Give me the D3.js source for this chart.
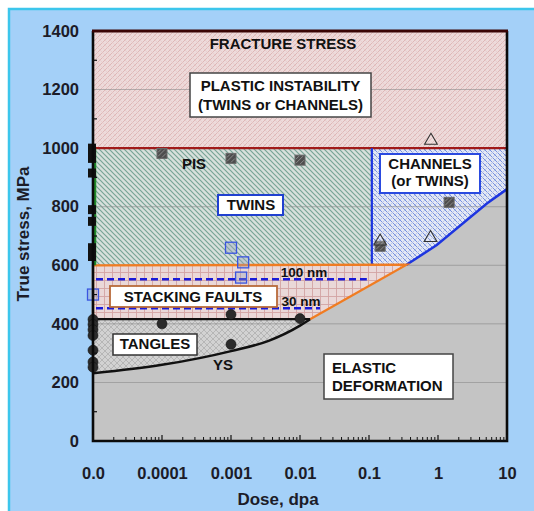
<!DOCTYPE html>
<html><head><meta charset="utf-8">
<script src="https://cdn.jsdelivr.net/npm/d3@7"></script>
<style>body{margin:0;background:#fff}svg{display:block;font-family:"Liberation Sans",Arial,sans-serif}</style>
</head><body><svg id="c" width="534" height="511"></svg>
<script>
// ---- data ----
const xTicks = [1e-5, 1e-4, 1e-3, 1e-2, 0.1, 1, 10];
const xTickLabels = ["0.0", "0.0001", "0.001", "0.01", "0.1", "1", "10"];
const yTicks = [0, 200, 400, 600, 800, 1000, 1200, 1400];
const yMinor = [100, 300, 500, 700, 900, 1100, 1300];
// boundaries
const fractureStress = 1400, pisStress = 1000, twinLimit = 600, tangleTop = 416;
const channelStartDose = 0.11;
const ysCurveDose = [1e-5, 1e-4, 1e-3, 3.5e-3, 1e-2, 0.014];
const ysCurveStress = [231, 260, 307, 342, 394, 416];
const sfDiagDose = [0.014, 0.35];
const sfDiagStress = [416, 602];
const chCurveDose = [0.35, 0.96, 5.1, 10];
const chCurveStress = [602, 669, 811, 860];
const dash100Dose = [1e-5, 0.093], dash100Stress = 552;
const dash30Dose = [1e-5, 0.0195], dash30Stress = 453;
// markers
const circleDose = [1e-5, 1e-5, 1e-5, 1e-5, 1e-5, 1e-5, 1e-5, 1e-4, 1e-3, 1e-3, 0.01];
const circleStress = [415, 398, 380, 360, 310, 270, 252, 400, 432, 330, 418];
const edgeSquareStress = [1000, 985, 965, 915, 790, 750, 660, 630];
const hatchSqDose = [1e-4, 1e-3, 0.01, 1.45, 0.145];
const hatchSqStress = [982, 965, 959, 815, 665];
const blueSqDose = [1e-3, 0.0015, 0.0014, 1e-5];
const blueSqStress = [660, 610, 558, 500];
const triDose = [0.79, 0.78, 0.145];
const triStress = [1029, 697, 685];

// ---- drawing ----
const svg = d3.select("#c");
const W = 534, H = 511;
const x = d3.scaleLog().domain([1e-5, 10]).range([93, 507]);
const y = d3.scaleLinear().domain([0, 1400]).range([441, 31]);
const X0 = x.range()[0], X1 = x.range()[1], Y0 = y.range()[0], Y1 = y.range()[1];

svg.append("rect").attr("x", 9).attr("y", 9).attr("width", W).attr("height", H)
  .attr("fill", "#a4d0f8").attr("stroke", "#3cc6ec").attr("stroke-width", 2.5);

const defs = svg.append("defs");
function pat(id, size, bg, lines) {
  const p = defs.append("pattern").attr("id", id).attr("patternUnits", "userSpaceOnUse")
    .attr("width", size).attr("height", size);
  p.append("rect").attr("width", size).attr("height", size).attr("fill", bg);
  lines.forEach(l => p.append("path").attr("d", l.d).attr("stroke", l.c).attr("stroke-width", l.w).attr("fill", "none"));
}
pat("pFrac", 5, "#eddada", [{d:"M0,5L5,0M-1,1L1,-1M4,6L6,4", c:"#d9abab", w:0.75},{d:"M0,0L5,5M-1,4L1,6M4,-1L6,1", c:"#e6c6c6", w:0.6}]);
pat("pTwin", 5, "#d8e0dc", [{d:"M0,0L5,5M-1,4L1,6M4,-1L6,1", c:"#78a496", w:1.2}]);
pat("pChan", 5, "#e4e8f4", [{d:"M0,0L5,5M-1,4L1,6M4,-1L6,1", c:"#6a86dc", w:0.9},{d:"M0,5L5,0M-1,1L1,-1M4,6L6,4", c:"#b2c0e8", w:0.8}]);
pat("pSF", 8, "#ead8d8", [{d:"M0,0.5H8M0.5,0V8", c:"#d2a4a4", w:0.9}]);
pat("pTan", 6, "#d2d2d2", [{d:"M0,0L6,6M0,6L6,0", c:"#ababab", w:0.7}]);

const plot = svg.append("g");
plot.append("rect").attr("x", X0).attr("y", Y1).attr("width", X1 - X0).attr("height", Y0 - Y1).attr("fill", "#c4c4c4");
const poly = pts => "M" + pts.map(p => x(p[0]) + "," + y(p[1])).join("L") + "Z";

plot.append("path").attr("d", poly([[1e-5, fractureStress], [10, fractureStress], [10, pisStress], [1e-5, pisStress]])).attr("fill", "url(#pFrac)");
plot.append("path").attr("d", poly([[1e-5, pisStress], [channelStartDose, pisStress], [channelStartDose, twinLimit], [1e-5, twinLimit]])).attr("fill", "url(#pTwin)");
const chPts = [[channelStartDose, pisStress], [10, pisStress]];
for (let i = chCurveDose.length - 1; i >= 0; i--) chPts.push([chCurveDose[i], chCurveStress[i]]);
chPts.push([channelStartDose, twinLimit]);
plot.append("path").attr("d", poly(chPts)).attr("fill", "url(#pChan)");
plot.append("path").attr("d", poly([[1e-5, twinLimit], [sfDiagDose[1], sfDiagStress[1]], [sfDiagDose[0], sfDiagStress[0]], [1e-5, tangleTop]])).attr("fill", "url(#pSF)");
const ysLine = d3.line().x(d => x(d[0])).y(d => y(d[1])).curve(d3.curveMonotoneX);
const ysPts = ysCurveDose.map((d, i) => [d, ysCurveStress[i]]);
plot.append("path").attr("d", "M" + x(1e-5) + "," + y(tangleTop) + "L" + x(sfDiagDose[0]) + "," + y(tangleTop) + "L" + ysLine(ysPts.slice().reverse()).slice(1) + "Z").attr("fill", "url(#pTan)");

// gridlines
plot.selectAll(".grid").data(yTicks.slice(1, -1)).join("line")
  .attr("x1", X0).attr("x2", X1).attr("y1", d => y(d)).attr("y2", d => y(d))
  .attr("stroke", "#8c8c8c").attr("stroke-width", 0.8).attr("opacity", 0.8);

// boundary lines
plot.append("line").attr("x1", X0).attr("x2", X1).attr("y1", y(pisStress)).attr("y2", y(pisStress)).attr("stroke", "#a01a1a").attr("stroke-width", 2.2);
plot.append("line").attr("x1", x(channelStartDose)).attr("x2", x(channelStartDose)).attr("y1", y(twinLimit)).attr("y2", y(pisStress)).attr("stroke", "#1d35e0").attr("stroke-width", 2.2);
plot.append("path").attr("d", d3.line().x(d => x(d[0])).y(d => y(d[1]))(chCurveDose.map((d, i) => [d, chCurveStress[i]]))).attr("fill", "none").attr("stroke", "#1d35e0").attr("stroke-width", 2.5);
plot.append("path").attr("d", "M" + x(1e-5) + "," + y(tangleTop) + "L" + x(1e-5) + "," + y(twinLimit) + "L" + x(sfDiagDose[1]) + "," + y(sfDiagStress[1]) + "L" + x(sfDiagDose[0]) + "," + y(sfDiagStress[0]))
  .attr("fill", "none").attr("stroke", "#f07c22").attr("stroke-width", 2.3);
plot.append("line").attr("x1", X0).attr("x2", x(sfDiagDose[0])).attr("y1", y(tangleTop)).attr("y2", y(tangleTop)).attr("stroke", "#111").attr("stroke-width", 2.2);
plot.append("path").attr("d", ysLine(ysPts)).attr("fill", "none").attr("stroke", "#111").attr("stroke-width", 2.5);
[[dash100Dose, dash100Stress], [dash30Dose, dash30Stress]].forEach(([dd, s]) => {
  plot.append("line").attr("x1", x(dd[0]) + 3).attr("x2", x(dd[1])).attr("y1", y(s)).attr("y2", y(s))
    .attr("stroke", "#1a1ad8").attr("stroke-width", 2.5).attr("stroke-dasharray", "7,4");
});
plot.append("line").attr("x1", X0 + 2).attr("x2", X0 + 2).attr("y1", y(twinLimit)).attr("y2", y(pisStress)).attr("stroke", "#1f8a2a").attr("stroke-width", 2.5);

// markers
const mk = svg.append("g");
edgeSquareStress.forEach(s => mk.append("rect").attr("x", X0 - 5).attr("y", y(s) - 4.5).attr("width", 8).attr("height", 9).attr("fill", "#111"));
circleDose.forEach((d, i) => mk.append("circle").attr("cx", x(d)).attr("cy", y(circleStress[i])).attr("r", 5).attr("fill", "#2b2b2b").attr("stroke", "#111").attr("stroke-width", 0.6));
hatchSqDose.forEach((d, i) => {
  const cx = x(d), cy = y(hatchSqStress[i]);
  mk.append("rect").attr("x", cx - 5).attr("y", cy - 5).attr("width", 10).attr("height", 10).attr("fill", "#4e4e4e").attr("stroke", "#6a6a6a").attr("stroke-width", 1);
  mk.append("path").attr("d", `M${cx-4},${cy-1}L${cx-1},${cy-4}M${cx-4},${cy+3}L${cx+3},${cy-4}M${cx},${cy+4}L${cx+4},${cy}`).attr("stroke", "#8a8a8a").attr("stroke-width", 1);
});
blueSqDose.forEach((d, i) => mk.append("rect").attr("x", x(d) - 5.5).attr("y", y(blueSqStress[i]) - 5.5).attr("width", 11).attr("height", 11)
  .attr("fill", "rgba(150,160,190,0.35)").attr("stroke", "#3a55e0").attr("stroke-width", 1.3));
const tri = d3.symbol().type(d3.symbolTriangle).size(70);
triDose.forEach((d, i) => mk.append("path").attr("d", tri()).attr("transform", `translate(${x(d)},${y(triStress[i]) + 1})`)
  .attr("fill", "rgba(255,255,255,0.15)").attr("stroke", "#333").attr("stroke-width", 1.1));

// frame
svg.append("path").attr("d", `M${X0},${Y1}V${Y0}H${X1}V${Y1}`).attr("fill", "none").attr("stroke", "#0a0a0a").attr("stroke-width", 2.6);
svg.append("line").attr("x1", X0 - 1).attr("x2", X1 + 1).attr("y1", Y1).attr("y2", Y1).attr("stroke", "#3a0505").attr("stroke-width", 3);

// ticks
const minor = [];
for (let e = -5; e < 1; e++) for (let k = 2; k <= 9; k++) minor.push(k * Math.pow(10, e));
svg.selectAll(".xmin").data(minor).join("line").attr("x1", d => x(d)).attr("x2", d => x(d)).attr("y1", Y0).attr("y2", Y0 - 4).attr("stroke", "#111").attr("stroke-width", 1);
svg.selectAll(".xmaj").data(xTicks).join("line").attr("x1", d => x(d)).attr("x2", d => x(d)).attr("y1", Y0).attr("y2", Y0 - 6).attr("stroke", "#111").attr("stroke-width", 1.2);
svg.selectAll(".ymin").data(yMinor).join("line").attr("x1", X0).attr("x2", X0 + 4).attr("y1", d => y(d)).attr("y2", d => y(d)).attr("stroke", "#111").attr("stroke-width", 1.2);

const xa = svg.append("g").attr("transform", `translate(0,${Y0})`)
  .call(d3.axisBottom(x).tickValues(xTicks).tickFormat((d, i) => xTickLabels[i]).tickSize(0).tickPadding(26.5));
xa.select(".domain").remove();
xa.selectAll("text").attr("font-size", 16.5).attr("font-weight", "bold").attr("fill", "#1c1c28").attr("font-family", "Liberation Sans, Arial, sans-serif");
const ya = svg.append("g").attr("transform", `translate(${X0},0)`)
  .call(d3.axisLeft(y).tickValues(yTicks).tickFormat(d3.format("d")).tickSize(0).tickPadding(14));
ya.select(".domain").remove();
ya.selectAll("text").attr("font-size", 16.5).attr("font-weight", "bold").attr("fill", "#1c1c28").attr("font-family", "Liberation Sans, Arial, sans-serif");

svg.append("text").attr("transform", "translate(29,234) rotate(-90)").attr("text-anchor", "middle")
  .attr("font-size", 17).attr("font-weight", "bold").attr("fill", "#1c1c28").text("True stress, MPa");
svg.append("text").attr("x", 278).attr("y", 505).attr("text-anchor", "middle")
  .attr("font-size", 17).attr("font-weight", "bold").attr("fill", "#1c1c28").text("Dose, dpa");

// labels
function label(lines, cx, cy, opts) {
  const fs = opts.fs || 15, lh = opts.lh || 18;
  const g = svg.append("g");
  if (opts.box) {
    g.append("rect").attr("x", opts.box[0]).attr("y", opts.box[1]).attr("width", opts.box[2]).attr("height", opts.box[3])
      .attr("fill", "#fff").attr("stroke", opts.stroke || "#333").attr("stroke-width", opts.sw || 1.5);
  }
  lines.forEach((t, i) => g.append("text").attr("x", cx).attr("y", cy + (i - (lines.length - 1) / 2) * lh)
    .attr("dy", "0.36em").attr("text-anchor", opts.anchor || "middle").attr("font-size", fs)
    .attr("font-weight", "bold").attr("fill", "#111").text(t));
}
label(["FRACTURE STRESS"], 283, 44, {});
label(["PLASTIC INSTABILITY", "(TWINS or CHANNELS)"], 280.5, 95, {box: [190, 73, 181, 44], stroke: "#444", lh: 19});
label(["PIS"], 194, 164, {});
label(["TWINS"], 251, 205, {box: [218, 195, 65, 20], stroke: "#2040d0", sw: 2});
label(["CHANNELS", "(or TWINS)"], 430, 172, {box: [380, 154, 100, 39], stroke: "#2a4ae0", sw: 2, lh: 17});
label(["STACKING FAULTS"], 193, 297, {box: [110, 286, 167, 21], stroke: "#b86a3a", sw: 1.8});
label(["100 nm"], 304, 272.5, {fs: 13.5});
label(["30 nm"], 301, 301.5, {fs: 13.5});
label(["TANGLES"], 155, 344, {box: [113, 334, 84, 21], stroke: "#333"});
label(["YS"], 223, 365, {});
label(["ELASTIC", "DEFORMATION"], 332, 376.5, {box: [324, 354, 129, 45], stroke: "#444", anchor: "start", lh: 18.5});
</script></body></html>
